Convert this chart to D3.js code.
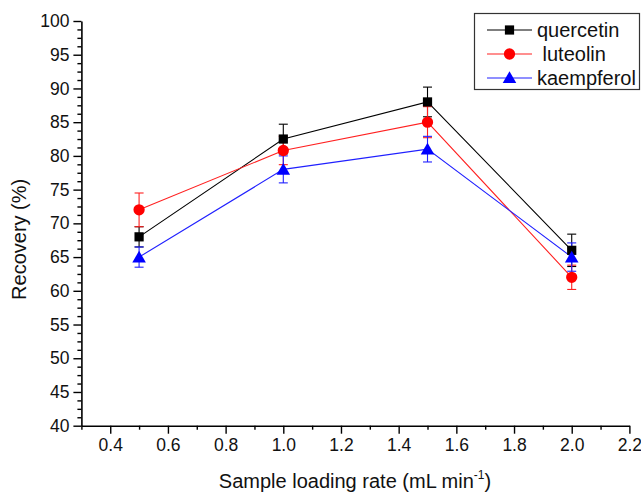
<!DOCTYPE html>
<html>
<head>
<meta charset="utf-8">
<script src="https://cdn.jsdelivr.net/npm/d3@7"></script>
<style>
  html, body { margin: 0; padding: 0; background: #fff; }
  svg { display: block; font-family: "Liberation Sans", Arial, sans-serif; }
</style>
</head>
<body>
<svg id="chart" width="641" height="492"></svg>
<script>
// Sample loading rate (mL/min) and recovery (%) with error bars
const rates = [0.5, 1.0, 1.5, 2.0];
const quercetin = [68, 82.5, 88, 66];
const quercetinErr = [1.5, 2.2, 2.2, 2.4];
const luteolin = [72, 80.8, 85, 62];
const luteolinErr = [2.5, 2.1, 2.3, 1.8];
const kaempferol = [65, 78, 81, 65];
const kaempferolErr = [1.5, 2.0, 1.9, 2.1];
const xTicks = [0.4, 0.6, 0.8, 1.0, 1.2, 1.4, 1.6, 1.8, 2.0, 2.2];
const yTicks = [40, 45, 50, 55, 60, 65, 70, 75, 80, 85, 90, 95, 100];

const series = [
  { name: "quercetin", label: "quercetin", values: quercetin, errs: quercetinErr, color: "#000000", line: "#000000", symbol: d3.symbolSquare, size: 85 },
  { name: "luteolin", label: "\u00a0luteolin", values: luteolin, errs: luteolinErr, color: "#ff0000", line: "#ff2020", symbol: d3.symbolCircle, size: 100 },
  { name: "kaempferol", label: "kaempferol", values: kaempferol, errs: kaempferolErr, color: "#0000ff", line: "#2020ff", symbol: d3.symbolTriangle, size: 80 }
];

const svg = d3.select("#chart");
const x = d3.scaleLinear().domain([0.3, 2.2]).range([81.4, 629.4]);
const y = d3.scaleLinear().domain([40, 100]).range([425.7, 21]);

// minor ticks
const xMinor = d3.range(0.3, 2.21, 0.1).map(v => +v.toFixed(2)).filter(v => !xTicks.some(t => Math.abs(t - v) < 1e-6));
const yMinor = d3.range(40, 100.01, 1.25).filter(v => !yTicks.includes(v));

const gx = svg.append("g").attr("transform", `translate(0,${y(40)})`);
gx.call(d3.axisBottom(x).tickValues(xTicks).tickFormat(d3.format(".1f")).tickSize(8).tickSizeOuter(0).tickPadding(5));
gx.append("g").call(d3.axisBottom(x).tickValues(xMinor).tickFormat("").tickSize(4))
  .select(".domain").remove();

const gy = svg.append("g").attr("transform", `translate(${x(0.3)},0)`);
gy.call(d3.axisLeft(y).tickValues(yTicks).tickFormat(d3.format("d")).tickSize(8).tickSizeOuter(0).tickPadding(4));
gy.append("g").call(d3.axisLeft(y).tickValues(yMinor).tickFormat("").tickSize(4))
  .select(".domain").remove();

svg.selectAll(".domain").attr("stroke", "#000").attr("stroke-width", 1.6);
svg.selectAll(".tick line").attr("stroke", "#000").attr("stroke-width", 1.4);
svg.selectAll(".tick text").attr("font-size", 17.5).attr("fill", "#111")
  .attr("font-family", "'Liberation Sans', Arial, sans-serif");

// axis titles
svg.append("text")
  .attr("transform", `translate(26,${(y(40) + y(100)) / 2 + 16}) rotate(-90)`)
  .attr("text-anchor", "middle")
  .attr("font-size", 20).attr("fill", "#111")
  .text("Recovery (%)");

const xt = svg.append("text")
  .attr("x", 355).attr("y", 488)
  .attr("text-anchor", "middle")
  .attr("font-size", 20).attr("fill", "#111");
xt.append("tspan").text("Sample loading rate (mL min");
xt.append("tspan").attr("font-size", 12).attr("dy", -9).text("-1");
xt.append("tspan").attr("dy", 9).text(")");

// lines
const line = d3.line().x((d, i) => x(rates[i])).y(d => y(d));
series.forEach(s => {
  svg.append("path").datum(s.values)
    .attr("fill", "none").attr("stroke", s.line).attr("stroke-width", 1.1)
    .attr("d", line);
});

// error bars
series.forEach(s => {
  const g = svg.append("g").attr("stroke", s.line).attr("stroke-width", 1.1);
  s.values.forEach((v, i) => {
    const cx = x(rates[i]);
    const lo = y(v - s.errs[i]), hi = y(v + s.errs[i]);
    g.append("line").attr("x1", cx).attr("x2", cx).attr("y1", lo).attr("y2", hi);
    g.append("line").attr("x1", cx - 4.5).attr("x2", cx + 4.5).attr("y1", lo).attr("y2", lo);
    g.append("line").attr("x1", cx - 4.5).attr("x2", cx + 4.5).attr("y1", hi).attr("y2", hi);
  });
});

// markers
series.forEach(s => {
  svg.append("g").selectAll("path").data(s.values).join("path")
    .attr("transform", (d, i) => `translate(${x(rates[i])},${y(d) + (s.symbol === d3.symbolTriangle ? 1.5 : 0)})`)
    .attr("d", d3.symbol().type(s.symbol).size(s.size))
    .attr("fill", s.color);
});

// legend
const lg = svg.append("g");
lg.append("rect").attr("x", 474.5).attr("y", 13.5).attr("width", 165).attr("height", 76)
  .attr("fill", "#fff").attr("stroke", "#333").attr("stroke-width", 1.2);
series.forEach((s, i) => {
  const ly = 30 + i * 24;
  lg.append("line").attr("x1", 487).attr("x2", 532).attr("y1", ly).attr("y2", ly)
    .attr("stroke", s.line).attr("stroke-width", 1.1);
  lg.append("path").attr("transform", `translate(509.5,${ly + (s.symbol === d3.symbolTriangle ? 1 : 0)})`)
    .attr("d", d3.symbol().type(s.symbol).size(s.size)).attr("fill", s.color);
  lg.append("text").attr("x", 537).attr("y", ly + 7).attr("font-size", 20).attr("fill", "#111")
    .text(s.label);
});
</script>
</body>
</html>
